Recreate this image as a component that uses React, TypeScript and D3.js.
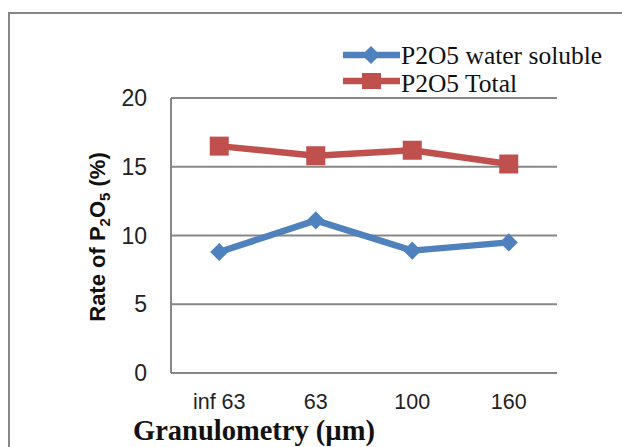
import * as d3 from 'd3';

const categories = ['inf 63', '63', '100', '160'];
const waterSoluble = [8.8, 11.1, 8.9, 9.5];
const total = [16.5, 15.8, 16.2, 15.2];
const yTicks = [0, 5, 10, 15, 20];

const seriesList = [
  { name: 'P2O5 water soluble', values: waterSoluble, color: '#4F81BD', marker: 'diamond' },
  { name: 'P2O5 Total', values: total, color: '#C0504D', marker: 'square' },
];

const W = 622;
const H = 447;
const plot = { left: 171, right: 557, top: 98, bottom: 373 };
const grid = '#878787';

export default function App() {
  const x = d3.scaleBand<string>().domain(categories).range([plot.left, plot.right]).padding(0);
  const y = d3.scaleLinear().domain([0, 20]).range([plot.bottom, plot.top]);
  const cx = (c: string) => (x(c) ?? 0) + x.bandwidth() / 2;

  const line = d3
    .line<number>()
    .x((d, i) => cx(categories[i]))
    .y(d => y(d));

  const diamond = d3.symbol().type(d3.symbolDiamond2).size(210);

  const marker = (kind: string, px: number, py: number, color: string, key: string | number) =>
    kind === 'diamond' ? (
      <path key={key} d={diamond() ?? ''} transform={`translate(${px},${py})`} fill={color} />
    ) : (
      <rect key={key} x={px - 9.5} y={py - 9.5} width={19} height={19} fill={color} />
    );

  return (
    <svg width={W} height={H} style={{ position: 'absolute', left: 0, top: 0, background: '#fff' }}>
      <rect x={9} y={13} width={W + 20} height={H + 20} fill="#fff" stroke={grid} strokeWidth={2} />

      {/* gridlines */}
      {yTicks.map(t => (
        <line key={t} x1={plot.left} x2={plot.right} y1={y(t)} y2={y(t)} stroke={grid} strokeWidth={2} />
      ))}
      <line x1={plot.left} x2={plot.left} y1={plot.top} y2={plot.bottom} stroke={grid} strokeWidth={2} />

      {/* y ticks */}
      {yTicks.map(t => (
        <text key={t} x={147} y={y(t) + 8} textAnchor="end" fontFamily="Liberation Sans, Arial" fontSize={23} fill="#222">
          {t}
        </text>
      ))}

      {/* x ticks */}
      {categories.map(c => (
        <text key={c} x={cx(c)} y={409} textAnchor="middle" fontFamily="Liberation Sans, Arial" fontSize={21.5} fill="#222">
          {c}
        </text>
      ))}

      {/* y title */}
      <text
        transform="translate(105,237) rotate(-90)"
        textAnchor="middle"
        fontFamily="Liberation Sans, Arial"
        fontWeight="bold"
        fontSize={22}
        fill="#111"
      >
        Rate of P<tspan fontSize={15} dy={5}>2</tspan>
        <tspan dy={-5}>O</tspan>
        <tspan fontSize={15} dy={5}>5</tspan>
        <tspan dy={-5}> (%)</tspan>
      </text>

      {/* x title */}
      <text x={133} y={440} fontFamily="Liberation Serif, Times New Roman" fontWeight="bold" fontSize={28.5} fill="#111">
        Granulometry (µm)
      </text>

      {/* series */}
      {seriesList.map(s => (
        <g key={s.name}>
          <path d={line(s.values) ?? ''} fill="none" stroke={s.color} strokeWidth={6.5} strokeLinejoin="round" />
          {s.values.map((v, i) => marker(s.marker, cx(categories[i]), y(v), s.color, i))}
        </g>
      ))}

      {/* legend */}
      {seriesList.map((s, i) => {
        const ly = 55 + i * 26;
        return (
          <g key={s.name}>
            <line x1={343} x2={400} y1={ly} y2={ly} stroke={s.color} strokeWidth={6.5} />
            {s.marker === 'diamond' ? (
              <path d={diamond() ?? ''} transform={`translate(371,${ly})`} fill={s.color} />
            ) : (
              <rect x={362} y={ly - 8} width={19} height={16} fill={s.color} />
            )}
            <text x={401} y={64 + i * 28} fontFamily="Liberation Serif, Times New Roman" fontSize={25.5} fill="#111">
              {s.name}
            </text>
          </g>
        );
      })}
    </svg>
  );
}
